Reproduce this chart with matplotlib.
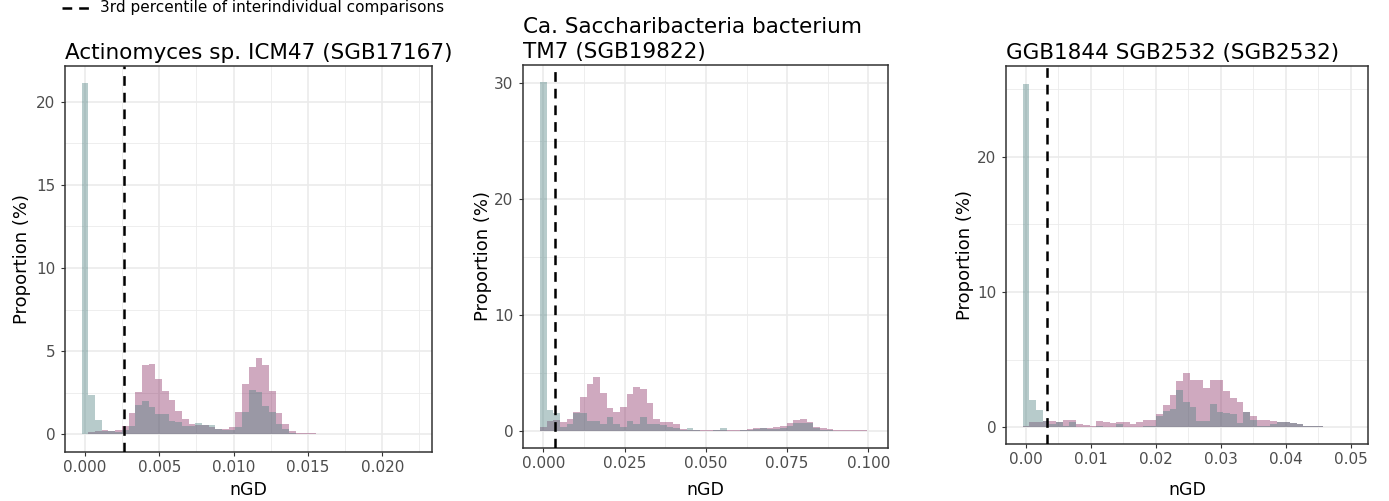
import numpy as np
import matplotlib
matplotlib.use("Agg")
import matplotlib.pyplot as plt
from matplotlib.lines import Line2D
from matplotlib.ticker import MultipleLocator, FormatStrFormatter

plt.rcParams['font.family'] = ['DejaVu Sans']
plt.rcParams['lines.scale_dashes'] = False

# ---- data (proportion %, one value per histogram bin, bin centres at i*width) ----
titles = ["Actinomyces sp. ICM47 (SGB17167)",
          "Ca. Saccharibacteria bacterium\nTM7 (SGB19822)",
          "GGB1844 SGB2532 (SGB2532)"]
bin_widths = [0.00045, 0.00205, 0.00103]
thresholds = [0.0026, 0.0036, 0.0032]

inter_1 = [0.05, 0.15, 0.2, 0.26, 0.22, 0.26, 0.48, 1.28, 2.55, 4.16,
           4.24, 3.35, 2.59, 2.07, 1.39, 0.94, 0.62, 0.55, 0.58, 0.45,
           0.34, 0.3, 0.45, 1.32, 3.02, 4.04, 4.6, 4.2, 2.59, 1.28,
           0.6, 0.2, 0.1, 0.08, 0.06, 0.05, 0.04, 0.04, 0.03, 0.03,
           0.05, 0.03, 0.02, 0.02, 0.02, 0.01, 0.01, 0.01, 0.01, 0.01]
intra_1 = [21.1, 2.35, 0.84, 0.2, 0.2, 0.15, 0.26, 0.5, 1.79, 1.99,
           1.63, 1.22, 1.22, 0.78, 0.72, 0.52, 0.5, 0.66, 0.58, 0.55,
           0.3, 0.25, 0.25, 0.45, 1.33, 2.69, 2.55, 1.69, 1.33, 0.6,
           0.3, 0.1, 0.05, 0.04, 0.03, 0.03, 0.03, 0.02, 0.03, 0.02,
           0.02, 0.02, 0.02, 0.01, 0.01, 0.01, 0.01, 0.01, 0.01, 0.01]

inter_2 = [0.29, 0.86, 0.92, 0.75, 0.98, 1.64, 2.94, 4.03, 4.6, 3.23,
           1.99, 1.58, 2.07, 3.14, 3.75, 3.57, 2.36, 1.0, 0.78, 0.75,
           0.58, 0.1, 0.06, 0.05, 0.05, 0.05, 0.05, 0.05, 0.05, 0.05,
           0.08, 0.12, 0.25, 0.2, 0.2, 0.3, 0.4, 0.7, 0.92, 0.98,
           0.75, 0.35, 0.2, 0.1, 0.08, 0.05, 0.03, 0.02, 0.02, 0.01]
intra_2 = [30.1, 1.79, 1.5, 0.3, 0.58, 1.5, 1.5, 0.86, 0.86, 0.58,
           1.15, 0.58, 0.35, 0.86, 0.58, 1.15, 0.58, 0.58, 0.5, 0.35,
           0.2, 0.05, 0.23, 0.02, 0.0, 0.0, 0.02, 0.25, 0.0, 0.0,
           0.02, 0.05, 0.1, 0.25, 0.1, 0.1, 0.26, 0.4, 0.63, 0.63,
           0.63, 0.2, 0.05, 0.02, 0.0, 0.0, 0.0, 0.0, 0.0, 0.0]

inter_3 = [0.12, 0.42, 0.42, 0.47, 0.47, 0.42, 0.52, 0.52, 0.25, 0.17,
           0.12, 0.47, 0.37, 0.32, 0.42, 0.42, 0.27, 0.37, 0.54, 0.56,
           0.95, 1.65, 2.4, 3.4, 4.0, 3.5, 3.5, 2.87, 3.46, 3.46,
           2.7, 2.2, 1.9, 1.1, 0.86, 0.56, 0.54, 0.47, 0.37, 0.37,
           0.3, 0.22, 0.12, 0.1, 0.08, 0.05, 0.03, 0.02, 0.01, 0.0]
intra_3 = [25.4, 2.04, 1.3, 0.49, 0.25, 0.42, 0.1, 0.42, 0.05, 0.05,
           0.03, 0.1, 0.05, 0.05, 0.25, 0.05, 0.05, 0.05, 0.1, 0.1,
           0.86, 1.23, 1.35, 2.75, 1.9, 1.47, 0.49, 0.49, 1.72, 1.1,
           1.03, 0.98, 0.32, 1.1, 0.56, 0.12, 0.12, 0.25, 0.37, 0.37,
           0.3, 0.22, 0.1, 0.1, 0.1, 0.05, 0.02, 0.01, 0.0, 0.0]

inter = [inter_1, inter_2, inter_3]
intra = [intra_1, intra_2, intra_3]

# ---- layout / style ----
pink = '#87285F'
teal = '#4B7F7F'
grid_col = '#EBEBEB'

ax_rects = [[0.0468, 0.0978, 0.2642, 0.7705],
            [0.3765, 0.1058, 0.2628, 0.7645],
            [0.7243, 0.1128, 0.2606, 0.7555]]
xlims = [(-0.00135, 0.02335), (-0.00625, 0.106), (-0.00308, 0.0527)]
ylims = [(-1.06, 22.15), (-1.5, 31.6), (-1.27, 26.7)]
x_major = [0.005, 0.025, 0.01]
x_fmt = ['%.3f', '%.3f', '%.2f']
y_major = [5, 10, 10]
ylab_x = [-0.094, -0.086, -0.088]
xlab_y = [-0.075, -0.086, -0.097]

fig = plt.figure(figsize=(13.89, 5.01), dpi=100)

for k in range(3):
    ax = fig.add_axes(ax_rects[k])
    w = bin_widths[k]
    centers = np.arange(len(inter[k])) * w
    ax.bar(centers, inter[k], width=w, color=pink, alpha=0.4, linewidth=0, zorder=2)
    ax.bar(centers, intra[k], width=w, color=teal, alpha=0.4, linewidth=0, zorder=3)
    ax.axvline(thresholds[k], color='black', lw=1.8, dashes=(7, 5), zorder=4)

    ax.set_xlim(*xlims[k])
    ax.set_ylim(*ylims[k])
    ax.xaxis.set_major_locator(MultipleLocator(x_major[k]))
    ax.xaxis.set_minor_locator(MultipleLocator(x_major[k] / 2))
    ax.xaxis.set_major_formatter(FormatStrFormatter(x_fmt[k]))
    ax.yaxis.set_major_locator(MultipleLocator(y_major[k]))
    ax.yaxis.set_minor_locator(MultipleLocator(y_major[k] / 2))

    ax.grid(which='major', color=grid_col, lw=1.2, zorder=0)
    ax.grid(which='minor', color=grid_col, lw=0.6, zorder=0)
    ax.set_axisbelow(True)
    for s in ax.spines.values():
        s.set_color('#333333')
        s.set_linewidth(1.1)
    ax.tick_params(which='major', length=3, width=0.8, color='#333333',
                   labelsize=11, labelcolor='#4D4D4D')
    ax.tick_params(axis='x', which='major', pad=2.5)
    ax.tick_params(axis='y', which='major', pad=4)
    ax.tick_params(which='minor', length=0)

    ax.set_xlabel('nGD', fontsize=12.5)
    ax.set_ylabel('Proportion (%)', fontsize=13)
    ax.yaxis.set_label_coords(ylab_x[k], 0.5)
    ax.xaxis.set_label_coords(0.5, xlab_y[k])
    ax.set_title(titles[k], loc='left', fontsize=15.5, pad=5, linespacing=1.3)

# legend key for the dashed threshold line, at the very top
fig.add_artist(Line2D([62 / 1389, 92 / 1389], [1 - 8 / 501, 1 - 8 / 501],
                      color='black', lw=1.8, dashes=(7, 5)))
fig.text(100 / 1389, 1 - 12 / 501, '3rd percentile of interindividual comparisons',
         fontsize=11, va='baseline', ha='left')

fig.savefig('out.png', dpi=100)
